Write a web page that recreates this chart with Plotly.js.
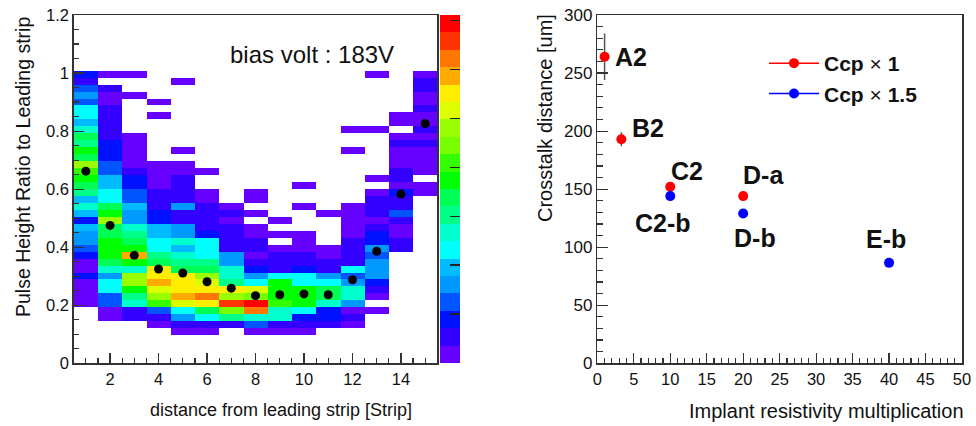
<!DOCTYPE html>
<html>
<head>
<meta charset="utf-8">
<script src="https://cdn.plot.ly/plotly-3.0.1.min.js"></script>
<style>
  html, body { margin: 0; padding: 0; background: #ffffff; }
  #chart { width: 976px; height: 426px; }
</style>
</head>
<body>
<div id="chart"></div>
<script>
// ---------- Left panel: pulse-height ratio vs. distance from leading strip ----------
const strips = [1, 2, 3, 4, 5, 6, 7, 8, 9, 10, 11, 12, 13, 14, 15];

// Ratio axis is binned in 50 bins of 0.024 (0 .. 1.2).
// Each strip list gives the palette level (1..20, 0 = empty) for bins 4 .. 41.
const ratioBinWidth = 0.024;
const ratioBinCount = 50;
const firstListedBin = 4;

const strip1Levels  = [0,0,0,0, 1,1,1,1, 3,1,1,3,4,5,5,6,3,6,8,6, 9,10,11,12,14,10,11,9,10,8, 6,7,7,4,5,4,2,3];
const strip2Levels  = [0,0,1,1, 4,4,7,7, 5,8,10,11,11,11,10,10,14,11,10,7, 7,6,6,4,4,3,3,3,2,2, 2,2,2,1,1,2,0,1];
const strip3Levels  = [0,0,2,2, 8,9,11,14, 14,8,11,17,11,10,9,8,5,5,6,4, 4,3,3,2,1,1,1,1,1,0, 0,0,0,0,1,0,0,1];
const strip4Levels  = [0,1,2,4, 12,14,15,17, 16,16,10,9,7,7,6,6,3,3,2,2, 2,1,1,1,1,0,0,0,0,0, 0,1,0,1,0,0,0,0];
const strip5Levels  = [1,2,5,7, 15,17,16,16, 16,10,9,8,6,8,5,5,2,2,5,2, 2,2,2,1,1,0,1,0,0,0, 0,0,0,0,0,0,1,0];
const strip6Levels  = [1,2,7,10, 16,18,16,15, 14,10,9,7,7,7,3,2,2,2,2,1, 1,0,0,1,0,0,0,0,0,0, 0,0,0,0,0,0,0,0];
const strip7Levels  = [0,2,9,13, 19,14,16,9, 8,8,5,5,2,2,2,2,1,2,1,0, 0,0,0,0,0,0,0,0,0,0, 0,0,0,0,0,0,0,0];
const strip8Levels  = [1,4,8,18, 20,13,15,7, 5,3,2,1,2,2,1,1,0,1,0,1, 1,0,0,0,0,0,0,0,0,0, 0,0,0,0,0,0,0,0];
const strip9Levels  = [1,2,8,8, 12,11,11,11, 7,2,2,2,1,0,1,0,1,0,0,0, 0,0,0,0,0,0,0,0,0,0, 0,0,0,0,0,0,0,0];
const strip10Levels = [1,2,3,7, 11,11,11,7, 7,3,2,2,1,1,1,0,0,0,1,0, 0,1,0,0,0,0,0,0,0,0, 0,0,0,0,0,0,0,0];
const strip11Levels = [0,2,3,3, 8,10,10,7, 5,2,2,1,1,0,0,0,0,1,0,0, 0,0,0,0,0,0,0,0,0,0, 0,0,0,0,0,0,0,0];
const strip12Levels = [0,1,2,1, 5,8,8,5, 4,7,2,2,2,2,1,1,1,1,1,0, 0,0,0,0,0,0,1,0,0,1, 0,0,0,0,0,0,0,0];
const strip13Levels = [0,0,0,1, 0,1,2,3, 5,5,5,4,5,3,3,2,1,2,2,2, 1,0,1,0,0,0,0,0,0,1, 0,0,0,0,0,0,0,1];
const strip14Levels = [0,0,0,0, 0,0,0,0, 0,0,0,0,2,2,1,1,2,4,2,2, 3,1,2,2,1,1,1,2,1,0, 1,1,0,0,0,0,0,0];
const strip15Levels = [0,0,0,0, 0,0,0,0, 0,0,0,0,0,0,0,0,0,0,0,0, 1,1,0,1,1,1,1,2,1,2, 1,1,2,1,1,2,2,1];

// Mean ratio per strip (profile points)
const meanRatio = [0.662, 0.475, 0.372, 0.325, 0.311, 0.281, 0.259, 0.233, 0.236, 0.239, 0.236, 0.288, 0.386, 0.583, 0.826];

// ---------- Right panel: crosstalk distance vs. implant resistivity ----------
const resistCcp1    = [1, 3.3, 10, 20];
const crosstalkCcp1 = [264, 193, 152, 144];
const errCcp1       = [20, 6, 2, 2];
const namesCcp1     = ['A2', 'B2', 'C2', 'D-a'];

const resistCcp15    = [10, 20, 40];
const crosstalkCcp15 = [144, 129, 86.5];
const errCcp15       = [2, 2, 2];
const namesCcp15     = ['C2-b', 'D-b', 'E-b'];

// ---------- helpers ----------
const W = 976, H = 426;
const px = v => v / W;          // horizontal pixel -> paper
const py = v => 1 - v / H;      // vertical pixel -> paper
const FONT = 'Liberation Sans, Arial, Helvetica, sans-serif';

// 20-step rainbow palette (purple -> red)
const palette = ['#6600ff','#3300ff','#0011ff','#0055ff','#0099ff','#00bbff','#00ffff','#00ffcc',
                 '#00ff88','#00ff55','#00ff00','#33ff00','#77ff00','#99ff00','#ddff00','#ffee00',
                 '#ffaa00','#ff7700','#ff3300','#ff0000'];
const colorscale = [];
palette.forEach((c, i) => {
  colorscale.push([i / palette.length, c]);
  colorscale.push([(i + 1) / palette.length, c]);
});

const stripColumns = [strip1Levels, strip2Levels, strip3Levels, strip4Levels, strip5Levels,
  strip6Levels, strip7Levels, strip8Levels, strip9Levels, strip10Levels, strip11Levels,
  strip12Levels, strip13Levels, strip14Levels, strip15Levels];

const ratioCenters = Array.from({ length: ratioBinCount }, (_, k) => (k + 0.5) * ratioBinWidth);
const zGrid = ratioCenters.map((_, k) => stripColumns.map(col => {
  const v = col[k - firstListedBin];
  return v > 0 ? v : null;
}));

const heat = {
  type: 'heatmap', x: strips, y: ratioCenters, z: zGrid,
  colorscale: colorscale, zmin: 0.5, zmax: 20.5,
  xaxis: 'x', yaxis: 'y', hoverinfo: 'skip', showlegend: false,
  colorbar: {
    x: px(440), xanchor: 'left', xref: 'paper', xpad: 0,
    y: py(15), yanchor: 'top', ypad: 0,
    len: 348, lenmode: 'pixels', thickness: 20, thicknessmode: 'pixels',
    outlinewidth: 0, ticks: 'inside', ticklen: 10, tickwidth: 1.5, tickcolor: '#222',
    tickvals: [3.31, 6.12, 8.93, 11.74, 14.55, 17.36, 20.17], showticklabels: false
  }
};

const profile = {
  type: 'scatter', mode: 'markers', x: strips, y: meanRatio,
  marker: { color: '#000000', size: 9 }, xaxis: 'x', yaxis: 'y',
  hoverinfo: 'skip', showlegend: false
};

const ccp1 = {
  type: 'scatter', mode: 'markers', x: resistCcp1, y: crosstalkCcp1,
  error_y: { type: 'data', array: errCcp1, color: '#555555', thickness: 1.5, width: 0 },
  marker: { color: '#ff0000', size: 10 }, xaxis: 'x2', yaxis: 'y2', showlegend: false
};
const ccp15 = {
  type: 'scatter', mode: 'markers', x: resistCcp15, y: crosstalkCcp15,
  error_y: { type: 'data', array: errCcp15, color: '#555555', thickness: 1.5, width: 0 },
  marker: { color: '#0000ff', size: 10 }, xaxis: 'x2', yaxis: 'y2', showlegend: false
};
// legend entries (line + marker symbol)
const legCcp1 = {
  type: 'scatter', mode: 'lines+markers', x: [null], y: [null], xaxis: 'x2', yaxis: 'y2',
  line: { color: '#ff0000', width: 1.5 }, marker: { color: '#ff0000', size: 10 },
  name: '<b>Ccp</b> × <b>1</b>'
};
const legCcp15 = {
  type: 'scatter', mode: 'lines+markers', x: [null], y: [null], xaxis: 'x2', yaxis: 'y2',
  line: { color: '#0000ff', width: 1.5 }, marker: { color: '#0000ff', size: 10 },
  name: '<b>Ccp</b> × <b>1.5</b>'
};

// point labels, offset from their markers
const labelShift = {
  'A2': [26, 0], 'B2': [27, 11], 'C2': [17, 16], 'D-a': [20, 21],
  'C2-b': [-7, -27], 'D-b': [12, -24], 'E-b': [-3, 24]
};
const pointLabels = [];
namesCcp1.forEach((n, i) => pointLabels.push({ n, x: resistCcp1[i], y: crosstalkCcp1[i] }));
namesCcp15.forEach((n, i) => pointLabels.push({ n, x: resistCcp15[i], y: crosstalkCcp15[i] }));

const annotations = pointLabels.map(p => ({
  xref: 'x2', yref: 'y2', x: p.x, y: p.y, text: '<b>' + p.n + '</b>', showarrow: false,
  xshift: labelShift[p.n][0], yshift: labelShift[p.n][1],
  xanchor: 'center', yanchor: 'middle',
  font: { family: FONT, size: 25, color: '#111111' }
}));

annotations.push(
  { xref: 'paper', yref: 'paper', x: px(312), y: py(55), text: 'bias volt : 183V',
    showarrow: false, xanchor: 'center', yanchor: 'middle',
    font: { family: FONT, size: 24, color: '#111111' } },
  { xref: 'paper', yref: 'paper', x: px(23), y: py(167), text: 'Pulse Height Ratio to Leading strip',
    textangle: -90, showarrow: false, xanchor: 'center', yanchor: 'middle',
    font: { family: FONT, size: 19.5, color: '#111111' } },
  { xref: 'paper', yref: 'paper', x: px(281), y: py(410), text: 'distance from leading strip [Strip]',
    showarrow: false, xanchor: 'center', yanchor: 'middle',
    font: { family: FONT, size: 18, color: '#111111' } },
  { xref: 'paper', yref: 'paper', x: px(545), y: py(118), text: 'Crosstalk distance [um]',
    textangle: -90, showarrow: false, xanchor: 'center', yanchor: 'middle',
    font: { family: FONT, size: 20, color: '#111111' } },
  { xref: 'paper', yref: 'paper', x: px(826), y: py(411), text: 'Implant resistivity multiplication',
    showarrow: false, xanchor: 'center', yanchor: 'middle',
    font: { family: FONT, size: 20, color: '#111111' } }
);

const TICK = '#333333';
const axisStyle = {
  showgrid: false, zeroline: false, showline: true, mirror: true,
  linecolor: TICK, linewidth: 1.5, ticks: 'inside', tickcolor: TICK, tickwidth: 1.2,
  tickfont: { family: FONT, size: 16.5, color: '#111111' }, fixedrange: true
};
// tick-only axes on the opposite sides of each frame
const mirrorStyle = {
  showgrid: false, zeroline: false, showline: false, showticklabels: false,
  ticks: 'inside', tickcolor: TICK, tickwidth: 1.2, fixedrange: true
};
const minorTicks = (t0, dt, len) => ({ tick0: t0, dtick: dt, ticklen: len, ticks: 'inside', tickcolor: TICK, tickwidth: 1.2 });

const yDomain = [py(363.3), py(15)];

const layout = {
  width: W, height: H,
  margin: { l: 0, r: 0, t: 0, b: 0, pad: 0 },
  paper_bgcolor: '#ffffff', plot_bgcolor: 'rgba(0,0,0,0)',
  font: { family: FONT, color: '#111111' },
  xaxis: Object.assign({}, axisStyle, {
    domain: [px(73.7), px(437.3)], range: [0.5, 15.5], anchor: 'y',
    tick0: 0, dtick: 2, ticklen: 10, minor: minorTicks(0.5, 0.5, 5)
  }),
  yaxis: Object.assign({}, axisStyle, {
    domain: yDomain, range: [0, 1.2], anchor: 'x',
    tick0: 0, dtick: 0.2, ticklen: 10, minor: minorTicks(0, 0.05, 5)
  }),
  xaxis3: Object.assign({}, mirrorStyle, {
    overlaying: 'x', side: 'top', anchor: 'y', range: [0.5, 15.5],
    tick0: 0, dtick: 2, ticklen: 10, minor: minorTicks(0.5, 0.5, 5)
  }),
  yaxis3: Object.assign({}, mirrorStyle, {
    overlaying: 'y', side: 'right', anchor: 'x', range: [0, 1.2],
    tick0: 0, dtick: 0.2, ticklen: 10, minor: minorTicks(0, 0.05, 5)
  }),
  xaxis2: Object.assign({}, axisStyle, {
    domain: [px(597.3), px(962)], range: [0, 50], anchor: 'y2',
    tick0: 0, dtick: 5, ticklen: 10, minor: minorTicks(0, 1, 5)
  }),
  yaxis2: Object.assign({}, axisStyle, {
    domain: yDomain, range: [0, 300], anchor: 'x2',
    tick0: 0, dtick: 50, ticklen: 11, minor: minorTicks(0, 10, 5.5),
    tickfont: { family: FONT, size: 17, color: '#111111' }
  }),
  xaxis4: Object.assign({}, mirrorStyle, {
    overlaying: 'x2', side: 'top', anchor: 'y2', range: [0, 50],
    tick0: 0, dtick: 5, ticklen: 10, minor: minorTicks(0, 1, 5)
  }),
  yaxis4: Object.assign({}, mirrorStyle, {
    overlaying: 'y2', side: 'right', anchor: 'x2', range: [0, 300],
    tick0: 0, dtick: 50, ticklen: 11, minor: minorTicks(0, 10, 5.5)
  }),
  showlegend: true,
  legend: {
    x: px(764), y: py(43), xanchor: 'left', yanchor: 'top',
    bgcolor: 'rgba(0,0,0,0)', borderwidth: 0, itemwidth: 50,
    font: { family: FONT, size: 21, color: '#111111' }, tracegroupgap: 0
  },
  annotations: annotations
};

Plotly.newPlot('chart', [heat, profile, ccp1, ccp15, legCcp1, legCcp15], layout,
  { displayModeBar: false, staticPlot: true });
</script>
</body>
</html>
